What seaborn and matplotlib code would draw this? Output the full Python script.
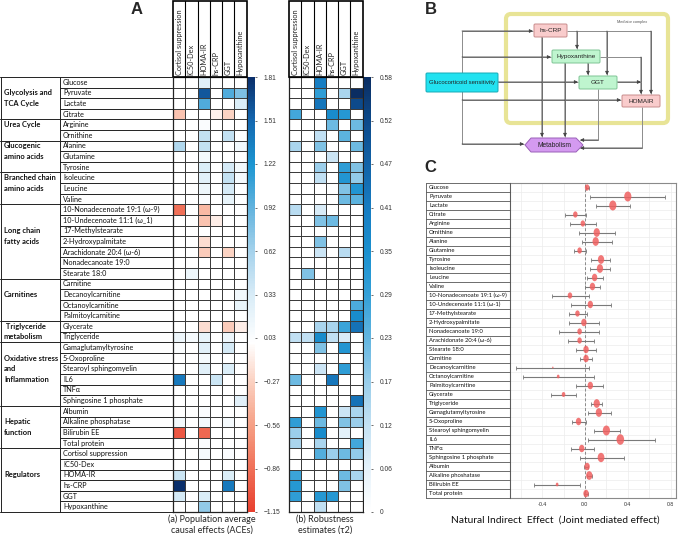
import numpy as np
import pandas as pd
import matplotlib
matplotlib.use("Agg")
import matplotlib.pyplot as plt
import seaborn as sns
from matplotlib.colors import LinearSegmentedColormap
from matplotlib.patches import FancyBboxPatch, Polygon, Rectangle
from matplotlib.path import Path
from matplotlib.transforms import Affine2D

sns.set_theme(style="white")
plt.rcParams["font.family"] = ["Lato", "DejaVu Sans"]

# ---------------- data: panel A ----------------
metabolites = [
    "Glucose", "Pyruvate", "Lactate", "Citrate",
    "Arginine", "Ornithine",
    "Alanine", "Glutamine", "Tyrosine",
    "Isoleucine", "Leucine", "Valine",
    "10-Nonadecenoate 19:1 (\u03c9-9)", "10-Undecenoate 11:1 (\u03c9_1)", "17-Methylstearate",
    "2-Hydroxypalmitate", "Arachidonate 20:4 (\u03c9-6)", "Nonadecanoate 19:0", "Stearate 18:0",
    "Carnitine", "Decanoylcarnitine", "Octanoylcarnitine", "Palmitoylcarnitine",
    "Glycerate", "Triglyceride",
    "Gamaglutamyltyrosine", "5-Oxoproline", "Stearoyl sphingomyelin", "IL6", "TNF\u03b1",
    "Sphingosine 1 phosphate",
    "Albumin", "Alkaline phosphatase", "Bilirubin EE", "Total protein",
    "Cortisol suppression", "IC50-Dex", "HOMA-IR", "hs-CRP", "GGT", "Hypoxanthine",
]
regulators = ["Cortisol suppression", "IC50-Dex", "HOMA-IR", "hs-CRP", "GGT", "Hypoxanthine"]

group_names = ["Glycolysis and\nTCA Cycle", "Urea Cycle", "Glucogenic\namino acids",
               "Branched chain\namino acids", "Long chain\nfatty acids", "Carnitines",
               " Triglyceride\nmetabolism", "Oxidative stress\nand\nInflammation",
               "Hepatic\nfunction", "Regulators"]
group_sizes = [4, 2, 3, 3, 7, 4, 2, 6, 4, 6]
group_label_row = [1, 4, 6, 9, 14, 20, 23, 26, 32, 37]

# (a) population average causal effects, one list per regulator column
ace_cortisol = [0, 0, 0, -0.35, 0, 0, 0.55, 0, 0, 0, 0, 0,
                -0.85, 0, 0, 0, 0, 0, 0, 0, 0, 0, 0, 0, 0.15,
                0.03, 0, 0, 1.4, 0, 0, 0, 0.1, -1.0, 0, 0, 0, 0.4, 1.81, 0.35, 0]
ace_ic50 = [0, 0, 0, 0, 0, 0, 0, 0, 0, 0, 0, 0,
            0, 0, 0, 0, 0, 0, 0.15, 0, 0, 0, 0, 0, 0.08,
            0, 0, 0, 0, 0, 0, 0, 0, 0, 0, 0, 0, 0, 0, 0, 0]
ace_homa = [0.25, 1.6, 1.0, 0, 0.05, 0.45, 0.45, 0.1, 0.3, 0.25, 0.15, 0.05,
            -0.4, -0.35, 0, -0.2, -0.3, 0, 0, 0, 0, 0, 0, -0.2, 0.2,
            0.25, 0.08, 0.25, 0, 0, 0, 0.05, 0.1, -0.9, 0.05, 0.08, 0, 0, 0, 0.3, 0.7]
ace_crp = [0, 0, 0, -0.08, 0, 0, 0, 0, 0, 0, 0, 0,
           0, -0.1, 0, 0, 0, 0, 0, 0, 0, 0, 0, 0, 0,
           0, 0, 0, 0.4, 0, 0, 0, 0, 0, 0, 0, 0, 0, 0, 0, 0]
ace_ggt = [0, 1.0, 0, -0.25, 0, 0.45, 0, 0, 0.35, 0.45, 0.35, 0.2,
           0, 0, 0, 0, -0.25, 0, 0, 0, 0, 0, 0, -0.3, 0.15,
           0.35, 0, 0.3, 0, 0, 0, 0, 0.08, 0, 0, 0.05, 0, 0.3, 1.4, 0, 0]
ace_hypox = [0, 0.8, 0.3, 0, 0, 0, 0.12, 0, 0.1, 0.08, 0, 0,
             0, 0, 0, 0, 0, 0, 0, 0, 0.12, 0.2, 0, -0.1, 0,
             0, 0, 0, 0, 0, 0.25, 0, 0, 0, 0, 0, 0, 0, 0, 0, 0]

# (b) robustness estimates (tau2)
tau_cortisol = [0, 0, 0, 0.27, 0, 0, 0.15, 0, 0, 0, 0, 0,
                0.13, 0, 0, 0, 0, 0, 0, 0, 0, 0, 0, 0, 0.12,
                0, 0, 0, 0.22, 0, 0, 0, 0.3, 0.17, 0.15, 0, 0, 0.28, 0.32, 0.3, 0]
tau_ic50 = [0, 0, 0, 0, 0, 0, 0, 0, 0, 0, 0, 0,
            0, 0, 0, 0, 0, 0, 0.2, 0, 0, 0, 0, 0, 0.12,
            0, 0, 0, 0, 0, 0, 0, 0, 0, 0, 0, 0, 0, 0, 0, 0]
tau_homa = [0.4, 0.3, 0.42, 0, 0, 0.12, 0.2, 0, 0.17, 0.12, 0, 0,
            0.08, 0.2, 0, 0.2, 0.1, 0, 0, 0, 0, 0, 0, 0.15, 0.36,
            0.2, 0, 0.1, 0, 0, 0, 0.33, 0.22, 0.36, 0.15, 0.25, 0, 0, 0, 0.32, 0.12]
tau_crp = [0, 0, 0, 0.36, 0.22, 0, 0, 0.1, 0, 0, 0, 0,
           0, 0.22, 0, 0, 0, 0, 0, 0, 0, 0, 0, 0.15, 0.12,
           0, 0, 0, 0.42, 0, 0, 0, 0, 0, 0, 0.17, 0, 0, 0, 0.32, 0]
tau_ggt = [0, 0.15, 0, 0.32, 0, 0.24, 0, 0, 0.3, 0.33, 0.2, 0.22,
           0, 0, 0, 0, 0.13, 0, 0, 0, 0, 0, 0, 0.28, 0.08,
           0.33, 0, 0.3, 0, 0, 0, 0.1, 0.2, 0.06, 0, 0.22, 0, 0.22, 0.2, 0, 0]
tau_hypox = [0, 0.58, 0.52, 0, 0.22, 0, 0.22, 0, 0.2, 0.18, 0.33, 0.24,
             0, 0, 0, 0, 0, 0, 0, 0, 0, 0.26, 0.36, 0.43, 0,
             0, 0, 0, 0, 0, 0.43, 0.15, 0.17, 0, 0.27, 0.18, 0, 0.15, 0, 0, 0]

ace_ticklabels = ["\u22121.15", "\u22120.86", "\u22120.56", "\u22120.27", "0.03", "0.33",
                  "0.62", "0.92", "1.22", "1.51", "1.81"]
tau_ticklabels = ["0", "0.06", "0.12", "0.17", "0.23", "0.29", "0.35", "0.41", "0.47",
                  "0.52", "0.58"]

# ---------------- data: panel C ----------------
c_names = ["Glucose", "Pyruvate", "Lactate", "Citrate", "Arginine", "Ornithine", "Alanine",
           "Glutamine", "Tyrosine", "Isoleucine", "Leucine", "Valine",
           "10-Nonadecenoate 19:1 (\u03c9-9)", "10-Undecenoate 11:1 (\u03c9-1)",
           "17-Methylstearate", "2-Hydroxypalmitate", "Nonadecanoate 19:0",
           "Arachidonate 20:4 (\u03c9-6)", "Stearate 18:0", "Carnitine", "Decanoylcarnitine",
           "Octanoylcarnitine", "Palmitoylcarnitine", "Glycerate", "Triglyceride",
           "Gamaglutamyltyrosine", "5-Oxoproline", "Stearoyl sphingomyelin", "IL6", "TNF\u03b1",
           "Sphingosine 1 phosphate", "Albumin", "Alkaline phoshatase", "Bilirubin EE",
           "Total protein"]
nie_est = [0.02, 0.40, 0.26, -0.09, -0.02, 0.11, 0.10, -0.05, 0.15, 0.14, 0.09, 0.07,
           -0.14, 0.05, -0.07, -0.01, -0.05, -0.05, 0.01, 0.01, -0.30, -0.25, 0.05, -0.20,
           0.11, 0.13, -0.06, 0.20, 0.33, -0.03, 0.15, 0.02, 0.04, -0.26, 0.01]
nie_lo = [0.01, 0.05, 0.10, -0.19, -0.14, -0.06, -0.03, -0.10, 0.06, 0.05, 0.02, 0.00,
          -0.31, -0.13, -0.15, -0.15, -0.24, -0.16, -0.08, -0.05, -0.64, -0.58, -0.08, -0.32,
          0.06, 0.03, -0.12, 0.08, 0.03, -0.13, -0.05, -0.01, 0.02, -0.48, -0.01]
nie_hi = [0.04, 0.75, 0.42, 0.01, 0.10, 0.28, 0.25, 0.01, 0.23, 0.23, 0.17, 0.14,
          0.04, 0.24, 0.02, 0.13, 0.13, 0.08, 0.10, 0.07, 0.04, 0.08, 0.17, -0.08,
          0.16, 0.24, 0.01, 0.33, 0.65, 0.08, 0.36, 0.03, 0.07, -0.05, 0.03]
nie_wt = [5, 8, 8, 5, 5, 7, 7, 5, 7, 7, 6, 6, 5, 6, 5, 6, 5, 5, 6, 6, 1.5, 3, 6, 4,
          7, 7, 6, 8, 8.5, 6, 7.5, 6, 7, 3, 6]

# ---------------- figure helpers ----------------
W, H = 680, 534
fig = plt.figure(figsize=(6.8, 5.34), dpi=100)


def px_axes(x0, y0, x1, y1):
    return fig.add_axes([x0 / W, 1 - y1 / H, (x1 - x0) / W, (y1 - y0) / H])


cmap_a = LinearSegmentedColormap.from_list("ace", [
    (0.0, "#e8402f"), (0.098, "#f07058"), (0.199, "#f6a085"), (0.297, "#fbd0c0"),
    (0.3885, "#ffffff"), (0.5, "#d8ecf7"), (0.598, "#a6d3ec"), (0.699, "#62b3de"),
    (0.8, "#1c96d2"), (0.9, "#1468b0"), (1.0, "#0a2f6b")])
cmap_b = LinearSegmentedColormap.from_list("tau", [
    (0.0, "#ffffff"), (0.1, "#e4f1fa"), (0.2, "#c3e1f3"), (0.3, "#98cdea"),
    (0.4, "#62b5e0"), (0.5, "#33a0d8"), (0.6, "#1a90cf"), (0.7, "#177cc2"),
    (0.8, "#1263a8"), (0.9, "#0d4a8a"), (1.0, "#0a2d62")])


def draw_heatmap(df, x0, x1, cmap, vmin, vmax, ticklabels):
    ax = px_axes(x0, 77, x1, 512)
    cax = px_axes(x1 + 1.5, 77, x1 + 8.5, 512)
    sns.heatmap(df, ax=ax, cbar_ax=cax, cmap=cmap, vmin=vmin, vmax=vmax,
                linewidths=0.6, linecolor="#3c3c3c", xticklabels=False, yticklabels=False)
    for s in ax.spines.values():
        s.set_visible(True)
        s.set_color("#222222")
        s.set_linewidth(0.9)
    cbar = ax.collections[0].colorbar
    cbar.set_ticks(np.linspace(vmin, vmax, 11), labels=ticklabels)
    cbar.outline.set_visible(False)
    cax.tick_params(labelsize=4.8, length=1.5, width=0.5, pad=5, colors="#333333")
    for t in cax.get_yticklabels():
        t.set_family(["Liberation Sans", "DejaVu Sans"])
    # header with rotated regulator names
    hx = px_axes(x0, 0, x1, 77)
    hx.set_xlim(0, 6)
    hx.set_ylim(77, 0)
    hx.axis("off")
    hx.add_patch(Rectangle((0, 0.6), 6, 76.4, fill=False, lw=1.2, ec="black", clip_on=False))
    for i in range(1, 6):
        hx.plot([i, i], [0.6, 77], color="black", lw=0.8, clip_on=False)
    for i, r in enumerate(df.columns):
        hx.text(i + 0.5, 75, r, rotation=90, ha="center", va="bottom", fontsize=5.3)


ace = pd.DataFrame(dict(zip(regulators, [ace_cortisol, ace_ic50, ace_homa, ace_crp,
                                         ace_ggt, ace_hypox])), index=metabolites)
tau = pd.DataFrame(dict(zip(regulators, [tau_cortisol, tau_ic50, tau_homa, tau_crp,
                                         tau_ggt, tau_hypox])), index=metabolites)

draw_heatmap(ace, 173, 246.5, cmap_a, -1.15, 1.81, ace_ticklabels)
draw_heatmap(tau, 289, 362.5, cmap_b, 0, 0.58, tau_ticklabels)

# label table for panel A
ax_t = px_axes(0, 77, 173, 512)
ax_t.set_xlim(0, 173)
ax_t.set_ylim(41, 0)
ax_t.axis("off")
lc = "#222222"
for i, m in enumerate(metabolites):
    ax_t.text(63, i + 0.5, m, va="center", fontsize=5.2, color="#111111")
for i in range(len(metabolites) + 1):
    ax_t.plot([60, 173], [i, i], color=lc, lw=0.7, clip_on=False)
start = 0
for name, n, first in zip(group_names, group_sizes, group_label_row):
    ax_t.plot([0, 60], [start, start], color=lc, lw=0.7, clip_on=False)
    for k, line in enumerate(name.split("\n")):
        ax_t.text(4, first + k + 0.5, line, va="center", fontsize=5.4,
                  fontweight="bold", color="#111111")
    start += n
ax_t.plot([0, 60], [41, 41], color=lc, lw=0.7, clip_on=False)
for xv in (0.5, 60, 173):
    ax_t.plot([xv, xv], [0, 41], color=lc, lw=0.7, clip_on=False)

fig.text(137 / W, 1 - 10 / H, "A", fontsize=12, fontweight="bold", ha="center", va="center",
         family=["Liberation Sans", "DejaVu Sans"])
fig.text(212 / W, 1 - 524.5 / H, "(a) Population average\ncausal effects (ACEs)", fontsize=6.5,
         ha="center", va="center", linespacing=1.2)
fig.text(325 / W, 1 - 524.5 / H, "(b) Robustness\nestimates (\u03c42)", fontsize=6.5,
         ha="center", va="center", linespacing=1.2)

# ---------------- panel B: mediation diagram ----------------
ax_b = px_axes(370, 0, 680, 160)
ax_b.set_xlim(370, 680)
ax_b.set_ylim(160, 0)
ax_b.axis("off")
fig.text(431 / W, 1 - 10 / H, "B", fontsize=12, fontweight="bold", ha="center", va="center",
         family=["Liberation Sans", "DejaVu Sans"])

bfont = ["Liberation Sans", "DejaVu Sans"]
ax_b.add_patch(FancyBboxPatch((506, 14), 162, 109, boxstyle="round,pad=0,rounding_size=5",
                              fc="white", ec="#e8e496", lw=3))
ax_b.text(632, 22, "Mediator complex", fontsize=2.8, ha="center", va="center",
          color="#555555", family=bfont)


def node(x0, y0, x1, y1, label, fc, ec, fs=4.6):
    ax_b.add_patch(FancyBboxPatch((x0, y0), x1 - x0, y1 - y0,
                                  boxstyle="round,pad=0,rounding_size=1.2",
                                  fc=fc, ec=ec, lw=0.7, zorder=3))
    ax_b.text((x0 + x1) / 2, (y0 + y1) / 2, label, fontsize=fs, ha="center", va="center",
              zorder=4, family=bfont, color="#222222")


node(426, 73, 498, 92, "Glucocorticoid sensitivity", "#22e2f0", "#17a9b6", 4.3)
node(534, 24, 567, 37, "hs-CRP", "#f9cccc", "#c88c8c")
node(552, 50, 600, 63, "Hypoxanthine", "#bff5cf", "#7fc495")
node(579, 76, 617, 89, "GGT", "#bff5cf", "#7fc495")
node(622, 95, 660, 107, "HOMAIR", "#f9cccc", "#c88c8c")
ax_b.add_patch(Polygon([(525, 145), (531, 138), (576, 138), (583, 145), (576, 152), (531, 152)],
                       closed=True, fc="#d49af0", ec="#9a60b8", lw=0.7, zorder=3))
ax_b.text(554, 145, "Metabolism", fontsize=4.8, ha="center", va="center", zorder=4,
          family=bfont, color="#222222")


def link(points):
    xs, ys = zip(*points)
    ax_b.plot(xs, ys, color="#8c8c8c", lw=0.7, zorder=2, solid_capstyle="butt")
    ax_b.annotate("", xy=points[-1], xytext=points[-2],
                  arrowprops=dict(arrowstyle="-|>", color="#444444", lw=0.6,
                                  mutation_scale=5, shrinkA=0, shrinkB=0), zorder=2)


ax_b.plot([462, 462], [31, 144], color="#8c8c8c", lw=0.7, zorder=2)
link([(462, 31), (533, 31)])
link([(462, 57), (551, 57)])
link([(498, 82), (578, 82)])
link([(462, 100), (621, 100)])
link([(462, 144), (524, 144)])
link([(567, 31), (651, 31), (651, 94)])
link([(577, 31), (577, 49)])
link([(607, 31), (607, 75)])
link([(542, 37), (542, 137)])
link([(600, 57), (641, 57), (641, 94)])
link([(617, 82), (641, 82)])
link([(588, 63), (588, 75)])
link([(565, 63), (565, 137)])
link([(598, 89), (598, 140), (580, 140)])
link([(642, 107), (642, 148), (580, 148)])

# ---------------- panel C: forest plot ----------------
fig.text(430 / W, 1 - 168 / H, "C", fontsize=12, fontweight="bold", ha="center", va="center",
         family=["Liberation Sans", "DejaVu Sans"])

ax_c = px_axes(510, 183, 676, 498)
rows = np.arange(len(c_names))
est = np.array(nie_est)
ax_c.axvline(0, color="#8a8a8a", lw=0.7, ls=(0, (3, 2)), zorder=1)
ax_c.errorbar(est, rows, xerr=[est - np.array(nie_lo), np.array(nie_hi) - est], fmt="none",
              ecolor="#7a7a7a", elinewidth=0.8, capsize=1.4, capthick=0.6, zorder=2)
ell = Path.unit_circle().transformed(Affine2D().scale(0.72, 1.0))
ax_c.scatter(est, rows, s=(np.array(nie_wt) * 1.25 / 1.39) ** 2, marker=ell, color="#ef5f5f",
             alpha=0.85, linewidths=0, zorder=3)
ax_c.set_xlim(-0.7, 0.85)
ax_c.set_ylim(len(c_names) - 0.5, -0.5)
ax_c.set_xticks([-0.4, 0.0, 0.4, 0.8])
ax_c.set_xticklabels(["-0.4", "0.0", "0.4", "0.8"])
ax_c.set_xticks(np.arange(-0.6, 0.81, 0.2), minor=True)
ax_c.set_yticks(rows + 0.5, minor=True)
ax_c.set_yticks([])
ax_c.grid(which="minor", color="#ececec", lw=0.5)
ax_c.grid(which="major", axis="x", color="#ececec", lw=0.5)
ax_c.tick_params(axis="x", which="both", labelsize=3.8, length=0, pad=3, colors="#333333")
ax_c.tick_params(axis="y", which="both", length=0)
for s in ax_c.spines.values():
    s.set_color("#8a8a8a")
    s.set_linewidth(0.8)

ax_ct = px_axes(426, 183, 510, 498)
ax_ct.set_xlim(0, 84)
ax_ct.set_ylim(len(c_names), 0)
ax_ct.axis("off")
for i, m in enumerate(c_names):
    ax_ct.text(3, i + 0.5, m, va="center", fontsize=4.2, color="#111111")
for i in range(len(c_names) + 1):
    ax_ct.plot([0, 84], [i, i], color="#555555", lw=0.6, clip_on=False)
for xv in (0, 84):
    ax_ct.plot([xv, xv], [0, len(c_names)], color="#555555", lw=0.6, clip_on=False)

fig.text(555 / W, 1 - 520 / H, "Natural Indirect  Effect  (Joint mediated effect)",
         fontsize=7.4, ha="center", va="center", color="#111111")

fig.savefig("out.png", dpi=100)
